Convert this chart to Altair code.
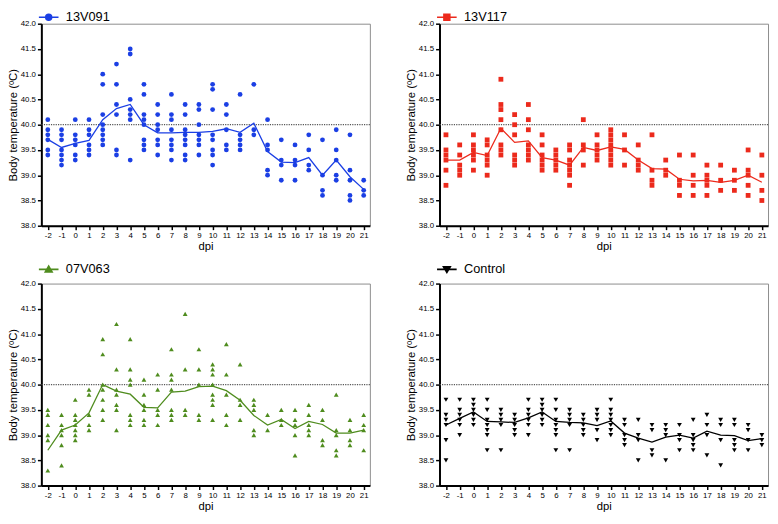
import altair as alt
import pandas as pd

DPI = list(range(-2, 22))

G1_NAME = "13V091"
G1_VALUES = [
    [40.1, 39.9, 39.8, 39.7, 39.5, 39.4],
    [39.9, 39.8, 39.7, 39.5, 39.4, 39.3, 39.2],
    [40.1, 39.8, 39.7, 39.6, 39.4, 39.3],
    [40.1, 39.9, 39.8, 39.6, 39.5, 39.4],
    [41.0, 40.8, 40.2, 40.0, 39.9, 39.8, 39.7, 39.6],
    [41.2, 40.8, 40.4, 40.2, 39.5, 39.4],
    [41.5, 41.4, 40.5, 40.3, 40.2, 40.1, 39.3],
    [40.8, 40.6, 40.2, 40.1, 40.0, 39.7, 39.6, 39.5],
    [40.4, 40.2, 40.0, 39.9, 39.7, 39.6, 39.4],
    [40.6, 40.2, 40.1, 39.9, 39.7, 39.6, 39.5, 39.3],
    [40.4, 40.2, 39.9, 39.8, 39.7, 39.6, 39.4, 39.3],
    [40.4, 40.3, 40.0, 39.8, 39.7, 39.6, 39.4],
    [40.8, 40.7, 40.3, 39.8, 39.7, 39.5, 39.4, 39.2],
    [40.4, 40.2, 39.9, 39.6, 39.5],
    [40.6, 39.8, 39.7, 39.6, 39.5],
    [40.8, 39.9, 39.8],
    [40.1, 39.6, 39.5, 39.1, 39.0],
    [39.7, 39.3, 39.2, 38.9],
    [39.6, 39.3, 39.2, 38.9],
    [39.8, 39.5, 39.2, 39.1],
    [39.7, 39.0, 38.7, 38.6],
    [39.9, 39.5, 39.3, 39.0, 38.9],
    [39.8, 39.1, 38.9, 38.6, 38.5],
    [38.9, 38.7, 38.6],
]
G1_MEAN = [39.71, 39.55, 39.63, 39.69, 40.10, 40.32, 40.40, 40.00, 39.84, 39.84,
           39.85, 39.85, 39.87, 39.92, 39.85, 40.03, 39.47, 39.26, 39.25, 39.35,
           39.00, 39.30, 38.97, 38.72]

G2_NAME = "13V117"
G2_VALUES = [
    [39.8, 39.5, 39.4, 39.3, 39.1, 38.8],
    [39.6, 39.4, 39.2, 39.1, 39.0],
    [39.8, 39.6, 39.5, 39.4, 39.3, 39.1],
    [39.7, 39.6, 39.4, 39.3, 39.2, 39.0],
    [40.9, 40.4, 40.3, 40.1, 39.9, 39.6, 39.5, 39.4],
    [40.2, 40.0, 39.8, 39.4, 39.3, 39.2],
    [40.4, 40.1, 39.9, 39.6, 39.5, 39.4, 39.3],
    [39.8, 39.6, 39.4, 39.3, 39.2, 39.1],
    [39.5, 39.4, 39.3, 39.2, 39.1],
    [39.6, 39.5, 39.3, 39.2, 39.1, 39.0, 38.8],
    [40.1, 39.6, 39.5, 39.2],
    [39.8, 39.6, 39.5, 39.4, 39.3],
    [39.9, 39.8, 39.7, 39.6, 39.5, 39.4, 39.3, 39.2],
    [39.8, 39.5, 39.2],
    [39.6, 39.3, 39.2, 39.1],
    [39.8, 39.1, 38.9, 38.8],
    [39.3, 39.1, 39.0],
    [39.4, 38.9, 38.8, 38.6],
    [39.4, 39.0, 38.8, 38.6],
    [39.2, 39.0, 38.9, 38.8, 38.6],
    [39.2, 38.9, 38.7],
    [39.1, 38.9, 38.7],
    [39.5, 39.1, 39.0, 38.8, 38.6],
    [39.4, 39.0, 38.7, 38.5],
]
G2_MEAN = [39.30, 39.30, 39.45, 39.39, 39.93, 39.65, 39.68, 39.35, 39.30, 39.20,
           39.55, 39.49, 39.56, 39.51, 39.30, 39.13, 39.12, 38.92, 38.89, 38.90,
           38.86, 38.90, 39.00, 38.86]

G3_NAME = "07V063"
G3_VALUES = [
    [39.5, 39.4, 39.2, 39.0, 38.9, 38.3],
    [39.4, 39.2, 39.1, 39.0, 38.8, 38.4],
    [39.7, 39.4, 39.3, 39.2, 39.1, 39.0, 38.9],
    [39.9, 39.8, 39.4, 39.2, 39.1],
    [40.9, 40.6, 40.0, 39.9, 39.7, 39.5, 39.3],
    [41.2, 40.3, 39.9, 39.8, 39.6, 39.5, 39.1],
    [40.9, 40.3, 40.1, 40.0, 39.4, 39.3, 39.2],
    [40.1, 39.8, 39.6, 39.5, 39.3, 39.2],
    [40.2, 39.9, 39.5, 39.4, 39.2],
    [40.7, 40.2, 40.1, 39.9, 39.5, 39.4, 39.3],
    [41.4, 40.3, 39.5, 39.4],
    [40.7, 40.3, 40.0, 39.4, 39.3],
    [40.4, 40.3, 40.2, 40.0, 39.8, 39.7, 39.6, 39.3],
    [40.8, 40.2, 39.8, 39.4, 39.2],
    [40.4, 39.7, 39.6, 39.3],
    [39.7, 39.6, 39.5, 39.1, 39.0],
    [39.4, 39.1],
    [39.5, 39.3, 39.2],
    [39.5, 39.3, 39.2, 39.0, 38.6],
    [39.6, 39.4, 39.2, 39.1, 39.0],
    [39.5, 39.3, 38.9, 38.8],
    [39.8, 39.1, 39.0, 38.7, 38.6],
    [39.3, 39.1, 38.9, 38.8],
    [39.4, 39.2, 39.1, 38.7],
]
G3_MEAN = [38.70, 39.10, 39.20, 39.44, 40.00, 39.87, 39.81, 39.55, 39.54, 39.85,
           39.87, 39.96, 39.97, 39.88, 39.69, 39.39, 39.20, 39.31, 39.13, 39.27,
           39.21, 39.04, 39.04, 39.10]

G4_NAME = "Control"
G4_VALUES = [
    [39.7, 39.4, 39.3, 39.2, 38.9, 38.5],
    [39.7, 39.5, 39.4, 39.3, 39.2, 39.0],
    [39.7, 39.6, 39.5, 39.4, 39.3, 39.2],
    [39.7, 39.5, 39.3, 39.2, 39.1, 39.0, 38.7],
    [39.5, 39.4, 39.3, 39.2, 38.7],
    [39.4, 39.3, 39.2, 39.1, 39.0],
    [39.7, 39.5, 39.4, 39.3, 39.2, 39.0],
    [39.7, 39.6, 39.5, 39.4, 39.3, 39.2],
    [39.7, 39.5, 39.3, 39.2, 39.1, 39.0, 38.7],
    [39.5, 39.4, 39.3, 39.2, 38.7],
    [39.4, 39.3, 39.2, 39.1, 39.0],
    [39.5, 39.4, 39.3, 39.1, 38.9],
    [39.7, 39.5, 39.4, 39.3, 39.2, 39.1, 39.0],
    [39.3, 39.2, 39.0, 38.9, 38.8],
    [39.3, 39.0, 38.9, 38.5],
    [39.2, 39.1, 38.7, 38.6],
    [39.2, 39.1, 39.0, 38.5],
    [39.2, 39.0, 38.9, 38.7],
    [39.3, 39.0, 38.9, 38.8, 38.7],
    [39.4, 39.2, 39.0, 38.6],
    [39.3, 39.2, 38.9, 38.4],
    [39.3, 39.2, 38.9, 38.8, 38.7],
    [39.2, 39.1, 38.9, 38.7],
    [39.0, 38.9, 38.8],
]
G4_MEAN = [39.20, 39.33, 39.46, 39.27, 39.26, 39.25, 39.34, 39.46, 39.27, 39.25,
           39.24, 39.19, 39.28, 39.04, 38.94, 38.86, 38.96, 39.00, 38.94, 39.08,
           39.00, 38.99, 38.89, 38.93]

Y_TICKS = [38.0, 38.5, 39.0, 39.5, 40.0, 40.5, 41.0, 41.5, 42.0]
THRESHOLD = [40.0]

FONT = "Liberation Sans"


def panel(name, values, means, color, shape, legend_path, legend_y, key):
    fld = "g_" + key
    pts = pd.DataFrame(
        [{"dpi": d, "temp": v, fld: name} for d, vs in zip(DPI, values) for v in vs]
    )
    mean_df = pd.DataFrame({"dpi": DPI, "temp": means})
    thr = pd.DataFrame({"temp": THRESHOLD})

    yscale = alt.Scale(domain=[38, 42], nice=False, zero=False)
    x = alt.X(
        "dpi:Q",
        scale=alt.Scale(domain=[-2.47, 21.45], nice=False, zero=False),
        axis=alt.Axis(
            values=DPI,
            title="dpi",
            grid=False,
            labelOverlap=False,
            labelExpr="datum.value < 0 ? '-' + abs(datum.value) : '' + datum.value",
        ),
    )
    y = alt.Y(
        "temp:Q",
        scale=yscale,
        axis=alt.Axis(
            values=Y_TICKS,
            format=".1f",
            title="Body temperature (ºC)",
            grid=False,
            labelOverlap=False,
        ),
    )

    rule = alt.Chart(thr).mark_rule(
        color="#555555", strokeDash=[1.2, 1.2], strokeWidth=1.2
    ).encode(y=y)

    line = alt.Chart(mean_df).mark_line(color=color, strokeWidth=1.3).encode(x=x, y=y)

    points = alt.Chart(pts).mark_point(
        filled=True, shape=shape, size=24, opacity=1
    ).encode(
        x=x,
        y=y,
        color=alt.Color(
            fld + ":N",
            scale=alt.Scale(domain=[name], range=[color]),
            legend=alt.Legend(
                title=None,
                orient="none",
                legendX=1,
                legendY=legend_y,
                symbolType=legend_path,
                symbolSize=100,
                symbolStrokeWidth=1.6,
                symbolFillColor=color,
                symbolStrokeColor=color,
                labelFontSize=13,
                labelFont=FONT,
                labelColor="#000000",
                labelOffset=11,
                padding=0,
            ),
        ),
    )
    return alt.layer(rule, line, points).properties(width=335, height=206)


CIRCLE = "M-2,0H2M-0.6,0A0.6,0.6,0,1,1,0.6,0A0.6,0.6,0,1,1,-0.6,0Z"
SQUARE = "M-2,0H2M-0.6,-0.6H0.6V0.6H-0.6Z"
TRI_UP = "M-2,0H2M0,-0.65L0.7,0.55H-0.7Z"
TRI_DOWN = "M-2,0H2M-0.7,-0.55H0.7L0,0.65Z"

p1 = panel(G1_NAME, G1_VALUES, G1_MEAN, "#1b3fe4", "circle", CIRCLE, -13, "a")
p2 = panel(G2_NAME, G2_VALUES, G2_MEAN, "#ec2a1c", "square", SQUARE, -13, "b")
p3 = panel(G3_NAME, G3_VALUES, G3_MEAN, "#4f8c1e", "triangle-up", TRI_UP, -21, "c")
p4 = panel(G4_NAME, G4_VALUES, G4_MEAN, "#000000", "triangle-down", TRI_DOWN, -21, "d")

chart = (
    alt.concat(p1, p2, p3, p4, columns=2, spacing={"row": 10, "column": 33})
    .resolve_scale(color="independent")
    .resolve_legend(color="independent")
    .properties(padding={"left": -2, "top": -3, "right": 0, "bottom": 0})
    .configure_view(stroke="#8c8c8c", strokeWidth=1)
    .configure_axis(
        domainColor="#000000",
        domainWidth=2,
        tickColor="#000000",
        tickWidth=1.5,
        tickSize=4,
        labelFont=FONT,
        labelFontSize=8,
        labelColor="#000000",
        labelPadding=2,
        titleFont=FONT,
        titleFontSize=11.5,
        titleFontWeight="normal",
        titleColor="#000000",
    )
    .configure_axisX(titlePadding=1, labelPadding=2)
    .configure_axisY(titlePadding=2)
)

chart.save("out.html", embed_options={"renderer": "svg", "actions": False})
